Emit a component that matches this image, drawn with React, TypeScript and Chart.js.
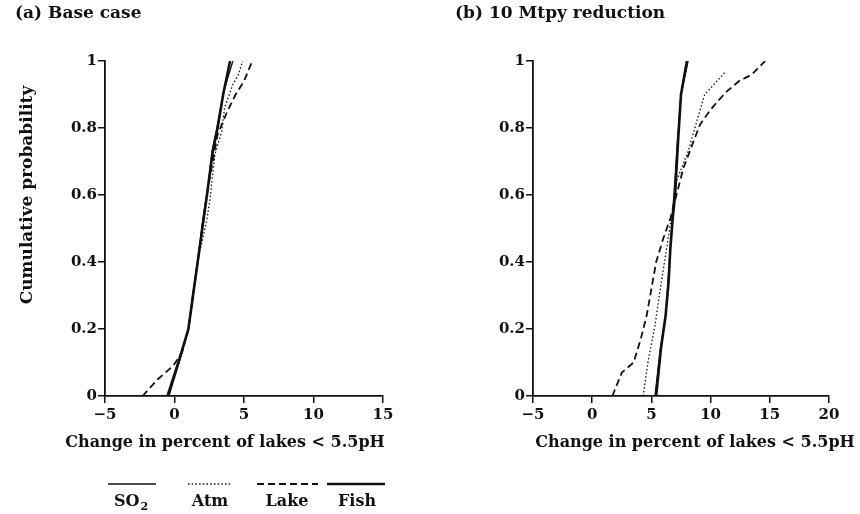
import React, { useEffect, useRef } from "react";
import { Chart, registerables } from "chart.js";

Chart.register(...registerables);

// ---- tick values ----
const xTicksA = [-5, 0, 5, 10, 15];
const xTicksB = [-5, 0, 5, 10, 15, 20];
const yTicks = [0, 0.2, 0.4, 0.6, 0.8, 1];

// ---- panel (a) Base case ----
const aSO2X = [-0.4, 0.4, 1.0, 1.3, 1.7, 2.05, 2.4, 2.7, 3.05, 3.55, 4.2];
const aSO2Y = [0, 0.11, 0.2, 0.3, 0.41, 0.53, 0.62, 0.73, 0.8, 0.91, 1.0];
const aFishX = [-0.5, 0.35, 1.0, 1.7, 2.4, 2.75, 3.1, 3.5, 4.0];
const aFishY = [0, 0.11, 0.2, 0.41, 0.62, 0.73, 0.8, 0.9, 1.0];
const aAtmX = [-0.4, 0.4, 1.0, 1.7, 2.3, 2.55, 2.9, 3.4, 3.6, 4.2, 4.6, 4.9];
const aAtmY = [0, 0.11, 0.2, 0.41, 0.52, 0.585, 0.72, 0.79, 0.86, 0.93, 0.96, 1.0];
const aLakeX = [-2.3, -1.2, -0.1, 0.55, 1.0, 1.7, 2.4, 3.1, 3.8, 4.4, 5.0, 5.6];
const aLakeY = [0, 0.05, 0.09, 0.13, 0.2, 0.41, 0.62, 0.78, 0.85, 0.9, 0.94, 1.0];

// ---- panel (b) 10 Mtpy reduction ----
const bSO2X = [5.3, 5.75, 6.2, 6.4, 6.6, 6.75, 6.9, 7.2, 7.5, 8.1];
const bSO2Y = [0, 0.14, 0.24, 0.34, 0.44, 0.53, 0.6, 0.76, 0.9, 1.0];
const bFishX = [5.4, 5.8, 6.2, 6.45, 6.6, 6.8, 7.0, 7.25, 7.5, 8.0];
const bFishY = [0, 0.14, 0.24, 0.34, 0.44, 0.53, 0.6, 0.76, 0.9, 1.0];
const bAtmX = [4.3, 4.75, 5.3, 5.75, 6.15, 6.5, 6.8, 7.1, 8.1, 8.75, 9.5, 10.8, 11.3];
const bAtmY = [0, 0.11, 0.21, 0.32, 0.41, 0.49, 0.56, 0.64, 0.73, 0.81, 0.9, 0.95, 0.97];
const bLakeX = [1.7, 2.5, 3.5, 4.1, 4.6, 5.0, 5.4, 6.0, 6.6, 7.7, 9.1, 9.9, 10.6, 11.4, 12.4, 13.5, 14.6];
const bLakeY = [0, 0.07, 0.1, 0.17, 0.24, 0.32, 0.4, 0.47, 0.53, 0.68, 0.81, 0.85, 0.88, 0.91, 0.94, 0.96, 1.0];

// ---- text ----
const titleA = "(a) Base case";
const titleB = "(b) 10 Mtpy reduction";
const xTitle = "Change in percent of lakes < 5.5pH";
const yTitle = "Cumulative probability";
const legendNames = ["SO", "Atm", "Lake", "Fish"];

const FONT = "'DejaVu Serif', 'Liberation Serif', serif";
const INK = "#111";

const pts = (xs: number[], ys: number[]) => xs.map((x, i) => ({ x, y: ys[i] }));

const styles = {
  so2: { borderColor: INK, borderWidth: 1.3, borderDash: [] as number[] },
  atm: { borderColor: INK, borderWidth: 1.3, borderDash: [1.5, 2.2] },
  lake: { borderColor: INK, borderWidth: 1.8, borderDash: [7, 4] },
  fish: { borderColor: INK, borderWidth: 2.6, borderDash: [] as number[] },
};

function makeDatasets(s: number[][], a: number[][], l: number[][], f: number[][]) {
  const base = { pointRadius: 0, fill: false, tension: 0, borderCapStyle: "butt" as const };
  return [
    { label: "SO2", data: pts(s[0], s[1]), ...base, ...styles.so2 },
    { label: "Atm", data: pts(a[0], a[1]), ...base, ...styles.atm },
    { label: "Lake", data: pts(l[0], l[1]), ...base, ...styles.lake },
    { label: "Fish", data: pts(f[0], f[1]), ...base, ...styles.fish },
  ];
}

function fmtX(v: number) {
  return v < 0 ? "\u2212" + Math.abs(v) : String(v);
}
function fmtY(v: number) {
  if (v === 0) return "0";
  if (v === 1) return "1";
  return v.toFixed(1);
}

function makeOptions(xTicks: number[], yAxisWidth: number, padRight: number) {
  const tickFont = { family: FONT, size: 15, weight: "bold" as const };
  return {
    responsive: false,
    animation: false as const,
    devicePixelRatio: 1,
    layout: { padding: { top: 61, right: padRight, left: 0, bottom: 0 } },
    plugins: { legend: { display: false }, tooltip: { enabled: false }, title: { display: false } },
    scales: {
      x: {
        type: "linear" as const,
        min: xTicks[0],
        max: xTicks[xTicks.length - 1],
        afterBuildTicks: (sc: any) => {
          sc.ticks = xTicks.map((v) => ({ value: v }));
        },
        afterFit: (sc: any) => {
          sc.height = 514 - 396;
        },
        ticks: { callback: (v: any) => fmtX(Number(v)), color: INK, font: tickFont, padding: 3, maxRotation: 0 },
        grid: { display: true, drawOnChartArea: false, drawTicks: true, tickLength: 7, color: INK, lineWidth: 1.5 },
        border: { display: true, color: INK, width: 1.8 },
      },
      y: {
        type: "linear" as const,
        min: 0,
        max: 1,
        afterBuildTicks: (sc: any) => {
          sc.ticks = yTicks.map((v) => ({ value: v }));
        },
        afterFit: (sc: any) => {
          sc.width = yAxisWidth;
        },
        ticks: { callback: (v: any) => fmtY(Number(v)), color: INK, font: tickFont, padding: 1 },
        grid: { display: true, drawOnChartArea: false, drawTicks: true, tickLength: 7, color: INK, lineWidth: 1.5 },
        border: { display: true, color: INK, width: 1.8 },
      },
    },
  };
}

function textPlugin(panel: "a" | "b") {
  return {
    id: "texts" + panel,
    afterDraw(chart: any) {
      const ctx = chart.ctx as CanvasRenderingContext2D;
      ctx.save();
      ctx.fillStyle = INK;
      ctx.strokeStyle = INK;
      ctx.textBaseline = "middle";
      // panel title
      ctx.font = `bold 17px ${FONT}`;
      ctx.textAlign = "left";
      ctx.fillText(panel === "a" ? titleA : titleB, panel === "a" ? 15 : 25, 14);
      // x axis title
      ctx.font = `bold 16px ${FONT}`;
      ctx.textAlign = "center";
      ctx.fillText(xTitle, panel === "a" ? 225 : 265, 443);
      if (panel === "a") {
        // y axis title
        ctx.save();
        ctx.translate(28, 195);
        ctx.rotate(-Math.PI / 2);
        ctx.font = `bold 17px ${FONT}`;
        ctx.fillText(yTitle, 0, 0);
        ctx.restore();
        // legend samples
        const ly = 484;
        const samples = [
          { x0: 108, x1: 156, st: styles.so2, cx: 131 },
          { x0: 188, x1: 232, st: styles.atm, cx: 210 },
          { x0: 257, x1: 318, st: styles.lake, cx: 287 },
          { x0: 327, x1: 385, st: styles.fish, cx: 357 },
        ];
        samples.forEach((s, i) => {
          ctx.beginPath();
          ctx.lineWidth = s.st.borderWidth;
          ctx.setLineDash(s.st.borderDash);
          ctx.moveTo(s.x0, ly);
          ctx.lineTo(s.x1, ly);
          ctx.stroke();
          ctx.setLineDash([]);
          ctx.font = `bold 16px ${FONT}`;
          if (i === 0) {
            const w1 = ctx.measureText(legendNames[0]).width;
            ctx.font = `bold 11px ${FONT}`;
            const w2 = ctx.measureText("2").width;
            const start = s.cx - (w1 + w2 + 1) / 2;
            ctx.textAlign = "left";
            ctx.font = `bold 16px ${FONT}`;
            ctx.fillText(legendNames[0], start, 502);
            ctx.font = `bold 11px ${FONT}`;
            ctx.fillText("2", start + w1 + 1, 507);
            ctx.textAlign = "center";
          } else {
            ctx.textAlign = "center";
            ctx.fillText(legendNames[i], s.cx, 502);
          }
        });
      }
      ctx.restore();
    },
  };
}

export default function App() {
  const refA = useRef<HTMLCanvasElement>(null);
  const refB = useRef<HTMLCanvasElement>(null);

  useEffect(() => {
    const chartA = new Chart(refA.current as HTMLCanvasElement, {
      type: "line",
      data: { datasets: makeDatasets([aSO2X, aSO2Y], [aAtmX, aAtmY], [aLakeX, aLakeY], [aFishX, aFishY]) as any },
      options: makeOptions(xTicksA, 105, 430 - 383) as any,
      plugins: [textPlugin("a")],
    });
    const chartB = new Chart(refB.current as HTMLCanvasElement, {
      type: "line",
      data: { datasets: makeDatasets([bSO2X, bSO2Y], [bAtmX, bAtmY], [bLakeX, bLakeY], [bFishX, bFishY]) as any },
      options: makeOptions(xTicksB, 533 - 430, 430 - 829 + 430) as any,
      plugins: [textPlugin("b")],
    });
    return () => {
      chartA.destroy();
      chartB.destroy();
    };
  }, []);

  return (
    <div style={{ position: "absolute", left: 0, top: 0, width: 860, height: 514, background: "#fff", overflow: "hidden" }}>
      <canvas ref={refA} width={430} height={514} style={{ position: "absolute", left: 0, top: 0 }} />
      <canvas ref={refB} width={430} height={514} style={{ position: "absolute", left: 430, top: 0 }} />
    </div>
  );
}
